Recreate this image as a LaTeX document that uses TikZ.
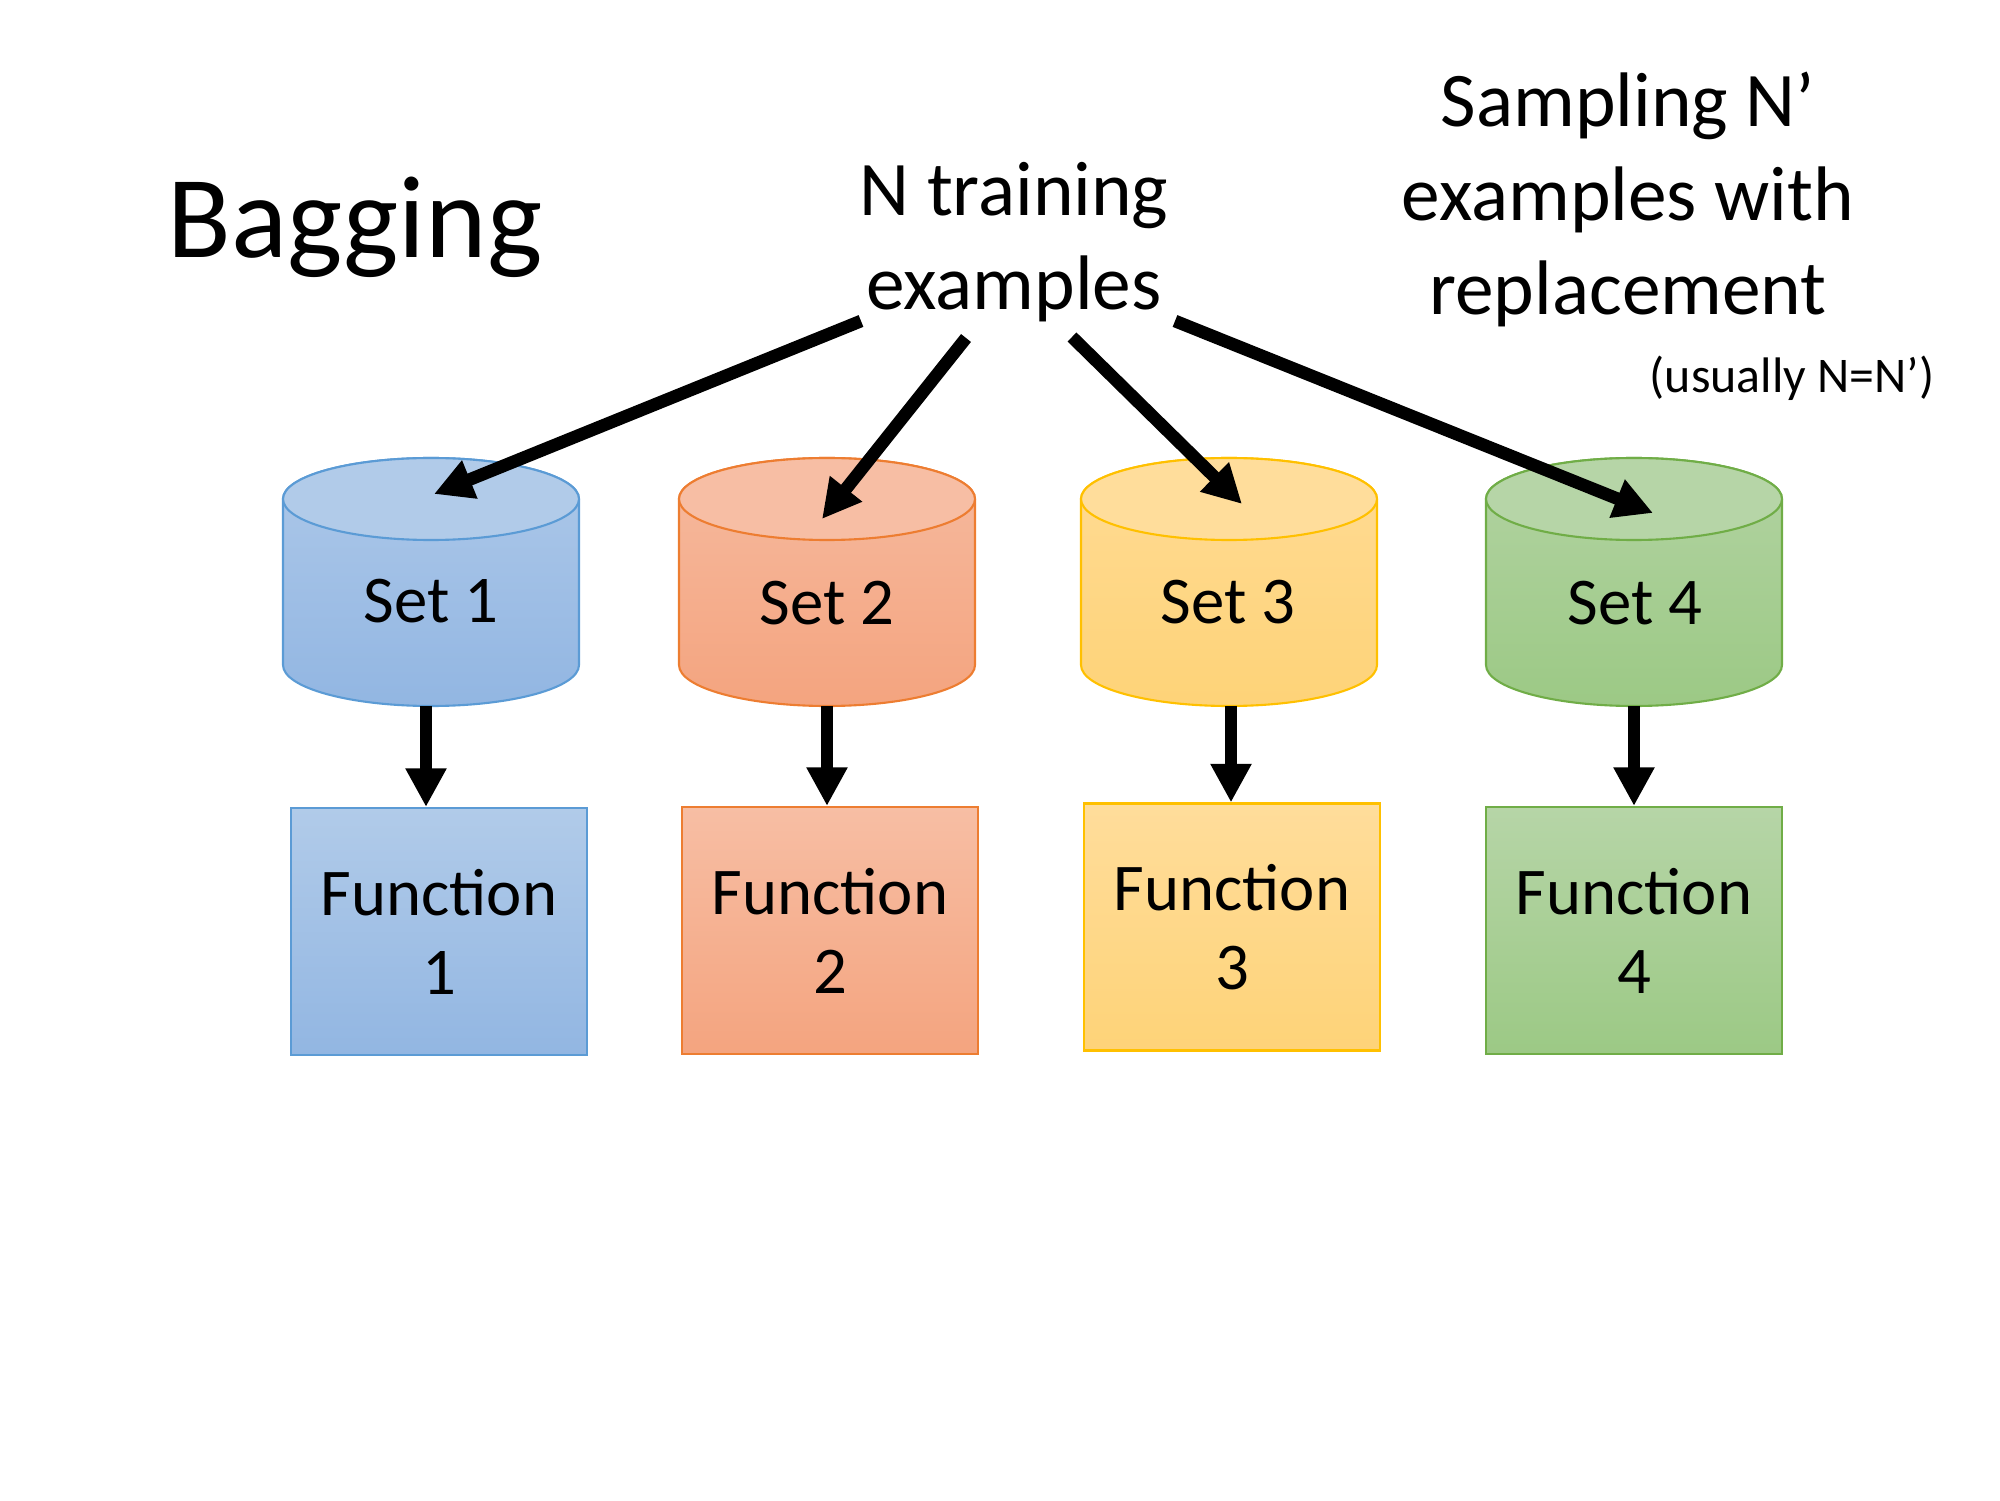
\documentclass[tikz,border=0pt]{standalone}
\usepackage{fontspec}
\setmainfont{Carlito}
\usepackage{tikz}
\usetikzlibrary{arrows.meta,calc}
\definecolor{blueline}{HTML}{5B9BD5}
\definecolor{bluecap}{HTML}{B1CBE9}
\definecolor{bluetop}{HTML}{ADC8E9}
\definecolor{bluebot}{HTML}{92B6E2}
\definecolor{orangeline}{HTML}{ED7D31}
\definecolor{orangecap}{HTML}{F7BEA4}
\definecolor{orangetop}{HTML}{F6BA9F}
\definecolor{orangebot}{HTML}{F4A47F}
\definecolor{yellowline}{HTML}{FFC000}
\definecolor{yellowcap}{HTML}{FFDD9B}
\definecolor{yellowtop}{HTML}{FFDB94}
\definecolor{yellowbot}{HTML}{FED378}
\definecolor{greenline}{HTML}{70AD47}
\definecolor{greencap}{HTML}{B6D5A7}
\definecolor{greentop}{HTML}{B2D3A2}
\definecolor{greenbot}{HTML}{9CC985}
% drum: centre x, cap colour, top colour, bottom colour, line colour
\newcommand{\drum}[5]{%
  \draw[#5,line width=0.6pt,top color=#3,bottom color=#4] (#1-1.48,10.01) -- (#1-1.48,8.35)
    arc[start angle=180,end angle=360,x radius=1.48,y radius=0.41] -- (#1+1.48,10.01)
    arc[start angle=0,end angle=180,x radius=1.48,y radius=0.41] -- cycle;
  \draw[#5,line width=0.6pt,fill=#2] (#1,10.01) ellipse[x radius=1.48,y radius=0.41];
}

\begin{document}
\begin{tikzpicture}[>={Triangle[length=11pt,width=11pt]},
    fun/.style={draw,line width=0.6pt,minimum width=2.96cm,minimum height=2.47cm,
      inner sep=0pt,align=center,font=\fontsize{19}{22.5}\selectfont},
    lbl/.style={anchor=base,font=\fontsize{19}{22.5}\selectfont},
    big/.style={line width=3.6pt,->}]
  \useasboundingbox (0,0) rectangle (20,15);
  \node[anchor=base,font=\fontsize{33.3}{40}\selectfont] (title) at (3.55,12.42) {Bagging};
  \node[anchor=base,align=center,font=\fontsize{22}{26.8}\selectfont] (train) at (10.14,11.90) {N training\\examples};
  \node[anchor=base,align=center,font=\fontsize{22}{26.8}\selectfont] (sampling) at (16.28,11.85) {Sampling N’\\examples with\\replacement};
  \node[anchor=base,font=\fontsize{14.2}{17}\selectfont] (usually) at (17.92,11.07) {(usually N=N’)};
  % the four bags
  \drum{4.31}{bluecap}{bluetop}{bluebot}{blueline}
  \drum{8.27}{orangecap}{orangetop}{orangebot}{orangeline}
  \drum{12.29}{yellowcap}{yellowtop}{yellowbot}{yellowline}
  \drum{16.34}{greencap}{greentop}{greenbot}{greenline}
  \node[lbl] (set1) at (4.31,8.77) {Set 1};
  \node[lbl] (set2) at (8.27,8.75) {Set 2};
  \node[lbl] (set3) at (12.28,8.76) {Set 3};
  \node[lbl] (set4) at (16.35,8.75) {Set 4};
  % the learned functions
  \node[fun,draw=blueline,top color=bluecap,bottom color=bluebot] (fun1) at (4.39,5.685) {Function\\1};
  \node[fun,draw=orangeline,top color=orangecap,bottom color=orangebot] (fun2) at (8.30,5.695) {Function\\2};
  \node[fun,draw=yellowline,top color=yellowcap,bottom color=yellowbot] (fun3) at (12.32,5.73) {Function\\3};
  \node[fun,draw=greenline,top color=greencap,bottom color=greenbot] (fun4) at (16.34,5.695) {Function\\4};
  % sampling arrows
  \coordinate (src1) at (8.61,11.79);
  \coordinate (src2) at (9.66,11.62);
  \coordinate (src3) at (10.72,11.63);
  \coordinate (src4) at (11.75,11.79);
  \coordinate (dst1) at (4.34,10.06);
  \coordinate (dst2) at (8.22,9.81);
  \coordinate (dst3) at (12.42,9.96);
  \coordinate (dst4) at (16.53,9.87);
  \draw[big] (src1) -- (dst1);
  \draw[big] (src2) -- (dst2);
  \draw[big] (src3) -- (dst3);
  \draw[big] (src4) -- (dst4);
  % training arrows
  \coordinate (drop1) at (4.26,7.94);
  \coordinate (drop2) at (8.27,7.94);
  \coordinate (drop3) at (12.31,7.94);
  \coordinate (drop4) at (16.34,7.94);
  \draw[big] (drop1) -- (drop1 |- fun1.north);
  \draw[big] (drop2) -- (drop2 |- fun2.north);
  \draw[big] (drop3) -- (drop3 |- fun3.north);
  \draw[big] (drop4) -- (drop4 |- fun4.north);
\end{tikzpicture}
\end{document}
